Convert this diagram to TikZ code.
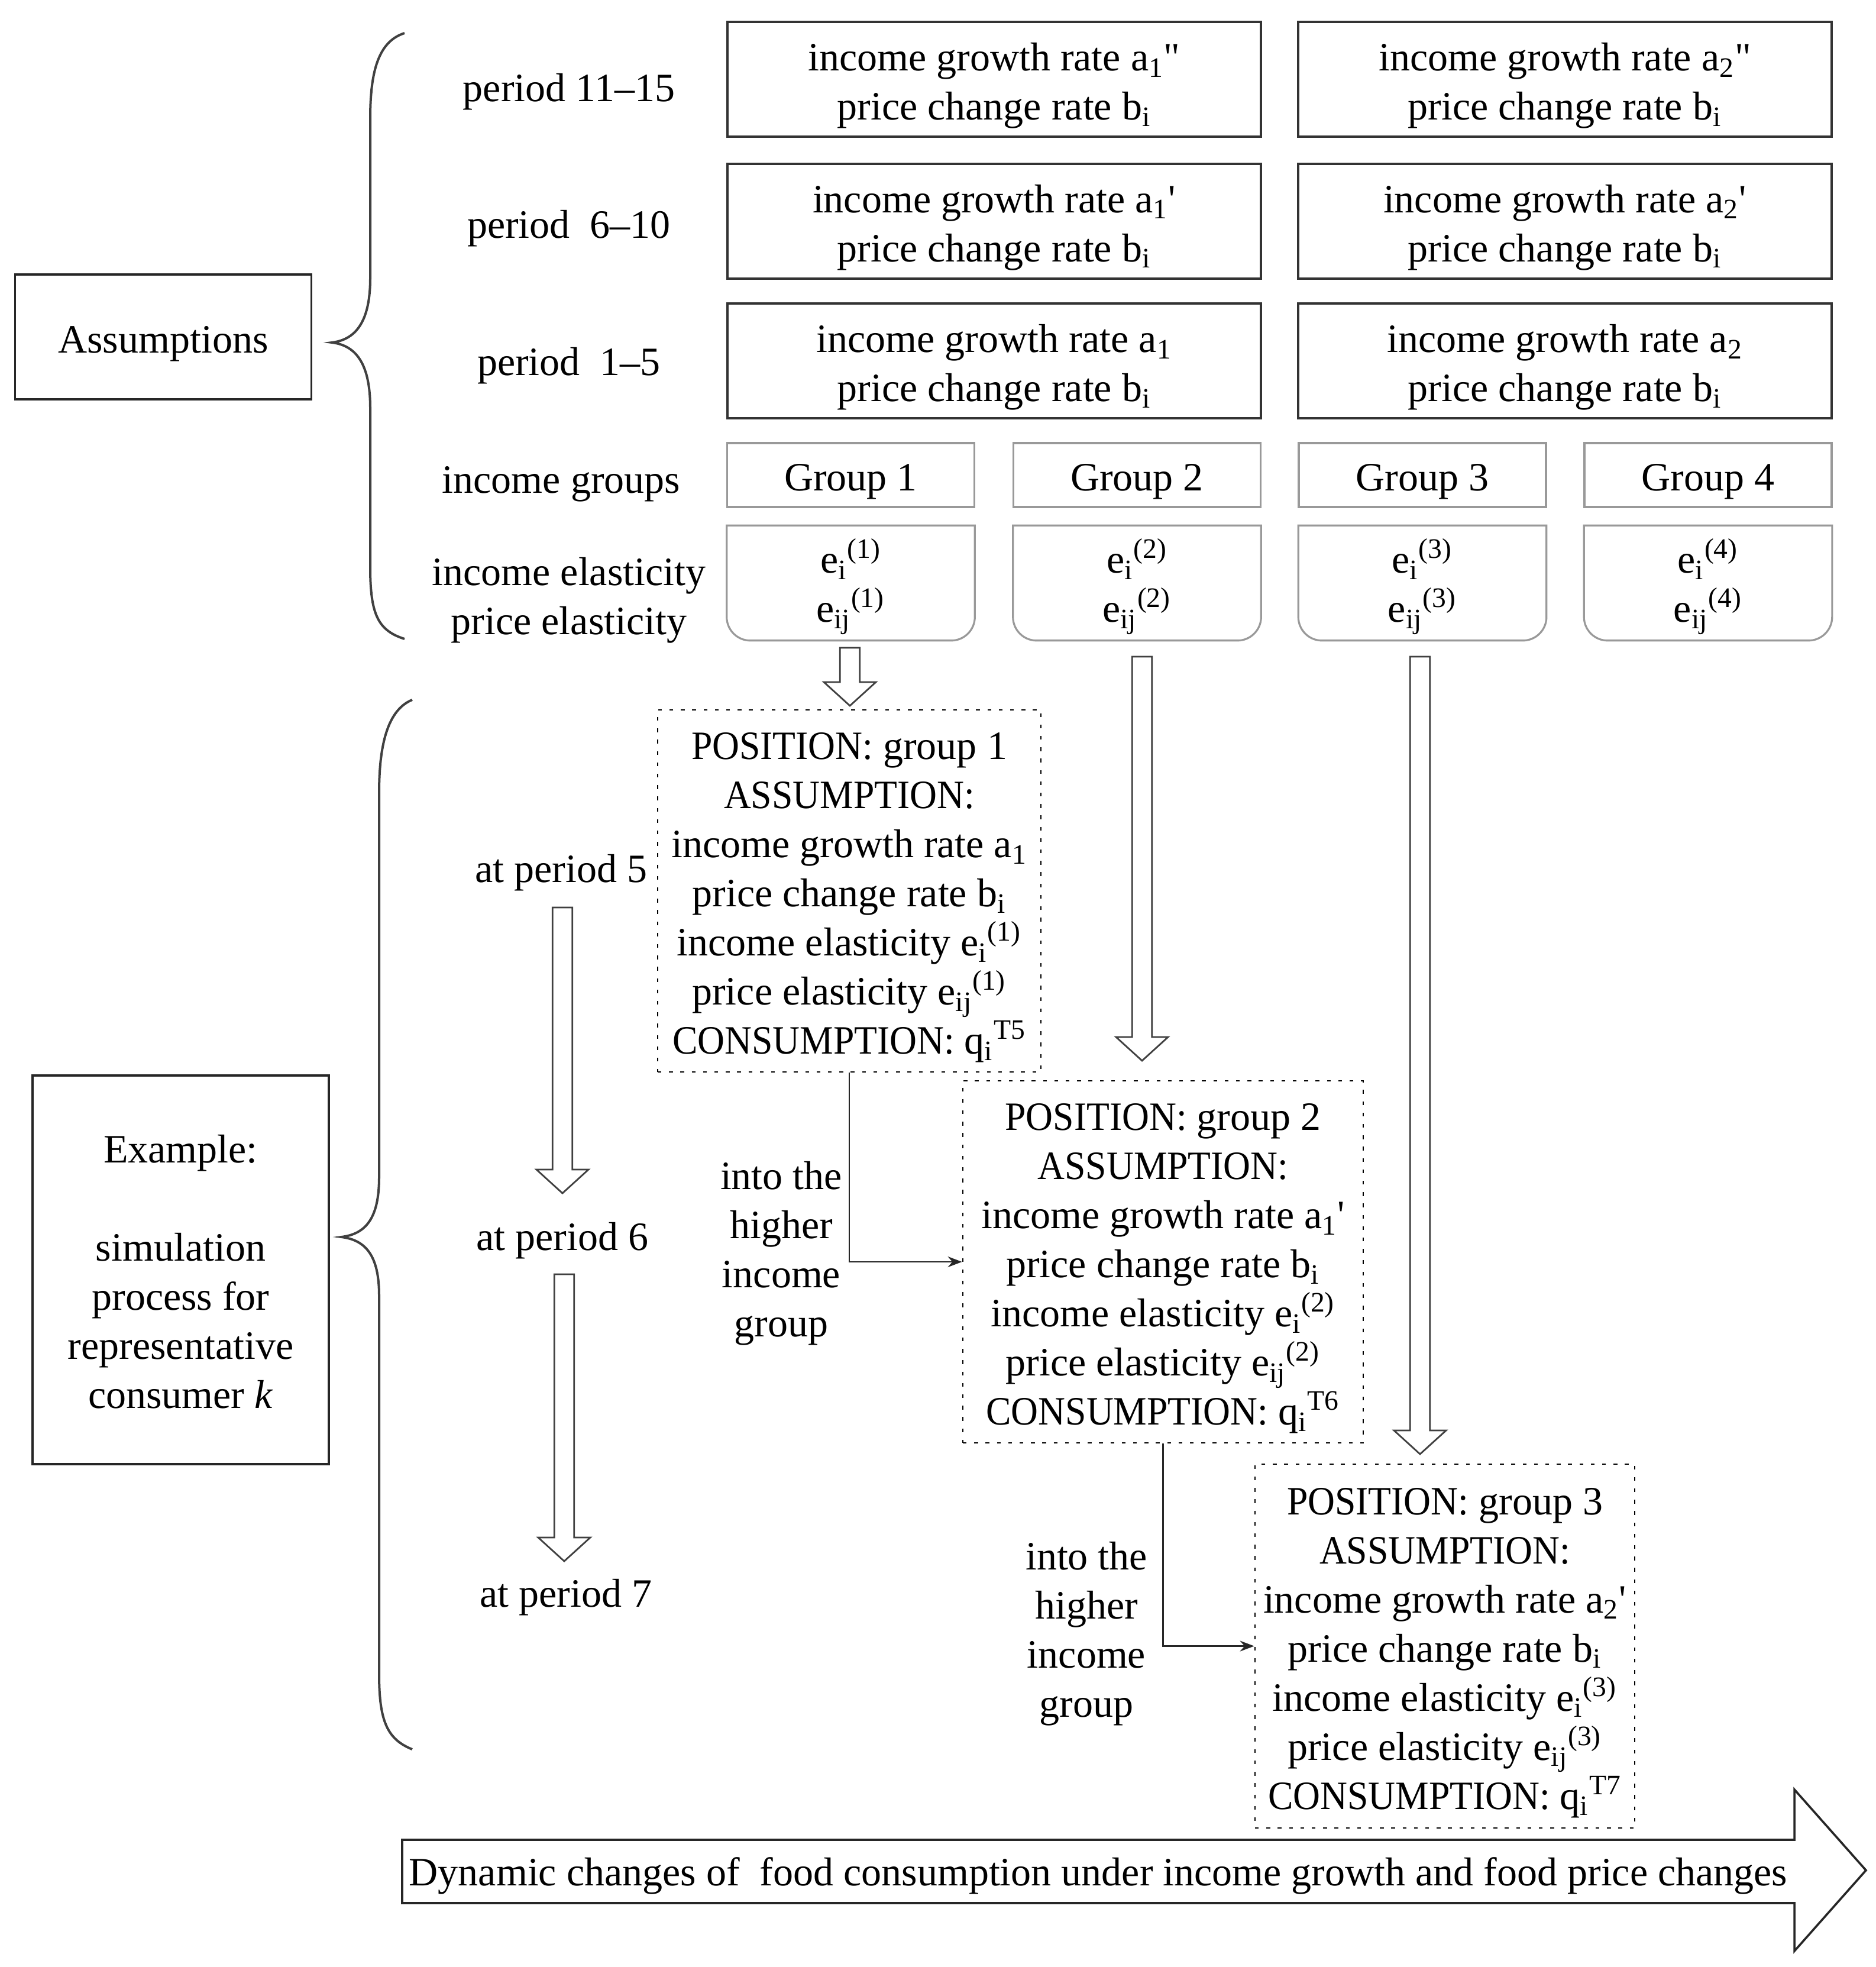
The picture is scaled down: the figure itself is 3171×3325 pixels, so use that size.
\documentclass[tikz,border=0pt]{standalone}
\usepackage{fontspec}
\setmainfont{Liberation Serif}
\newfontfamily\capsfont{Liberation Serif}[FakeStretch=0.935]
\newcommand\caps[1]{{\capsfont #1}}
\newcommand\fl[1][17pt]{\rule{0pt}{#1}}
\usetikzlibrary{arrows.meta,calc}
\newcommand\hollowarrow[2]{\draw[hollow] let \p1=#1, \p2=#2 in (\x1-4.2pt,\y1) -- (\x1-4.2pt,\y2+10pt) -- (\x1-11pt,\y2+10pt) -- (\x1,\y2) -- (\x1+11pt,\y2+10pt) -- (\x1+4.2pt,\y2+10pt) -- (\x1+4.2pt,\y1) -- cycle;}
\newcommand\elbox[1]{\draw[grpline] (#1.north west) -- (#1.north east) -- ([yshift=10pt]#1.south east) arc[start angle=0,end angle=-90,radius=10pt] -- ([xshift=10pt]#1.south west) arc[start angle=270,end angle=180,radius=10pt] -- cycle;}
\begin{document}
\begin{tikzpicture}[x=0.25pt,y=-0.25pt,
  every node/.style={font=\fontsize{17}{20.75}\selectfont, inner sep=0pt, align=center},
  lowtext/.style={execute at begin node={\rule{0pt}{#1}}},
  lowtext/.default=17pt,
  mainbox/.style={draw=black!80, line width=1pt, minimum width=225.5pt, minimum height=48.5pt},
  grpbox/.style={draw=black!40, line width=0.8pt, minimum width=104.5pt, minimum height=27pt, lowtext},
  elnode/.style={minimum width=104.5pt, minimum height=48.25pt},
  grpline/.style={draw=black!40, line width=0.8pt},
  dotbox/.style={draw=black, line width=0.7pt, dash pattern=on 1.6pt off 3.2pt, minimum height=153pt},
  sidebox/.style={draw=black!85, line width=0.9pt, minimum width=125.25pt},
  hollow/.style={draw=black!75, fill=white, line width=0.7pt},
  brace/.style={draw=black!75, line width=1pt},
  conn/.style={draw=black!85, line width=0.7pt, -{Stealth[length=6pt,width=4.5pt]}}]
\useasboundingbox (0,0) rectangle (3171,3325);
\fill[white] (0,0) rectangle (3171,3325);

% braces
\draw[brace] (684,56) .. controls (640,70) and (626,120) .. (626,200) -- (626,470) .. controls (626,540) and (604,574) .. (561,579) .. controls (604,584) and (626,618) .. (626,690) -- (626,960) .. controls (626,1040) and (640,1066) .. (684,1080);
\draw[brace] (697,1183) .. controls (655,1200) and (641,1260) .. (641,1340) -- (641,1990) .. controls (641,2060) and (618,2086) .. (577,2091) .. controls (618,2096) and (641,2122) .. (641,2190) -- (641,2830) .. controls (641,2910) and (655,2940) .. (697,2957);

% left boxes
\node[sidebox, minimum height=52.75pt, lowtext] (assum) at (276,569.5) {Assumptions};
\node[sidebox, minimum height=164.25pt] (ex) at (305.5,2146.5) {\fl[13.5pt]Example:\\\mbox{}\\simulation\\process for\\representative\\consumer \textit{k}};

% row labels
\node (p3) at (962,155) {period 11–15};
\node (p2) at (962,386) {period\ \ 6–10};
\node (p1) at (962,618) {period\ \ 1–5};
\node (ig) at (949,818) {income groups};
\node (iel) at (962,1015) {income elasticity\\price elasticity};

% assumption boxes
\node[mainbox] (t3L) at (1681,134.5) {\fl income growth rate a\textsubscript{1}\textquotedbl\\price change rate b\textsubscript{i}};
\node[mainbox] (t3R) at (2646,134.5) {\fl income growth rate a\textsubscript{2}\textquotedbl\\price change rate b\textsubscript{i}};
\node[mainbox] (t2L) at (1681,374) {\fl income growth rate a\textsubscript{1}\textquotesingle\\price change rate b\textsubscript{i}};
\node[mainbox] (t2R) at (2646,374) {\fl income growth rate a\textsubscript{2}\textquotesingle\\price change rate b\textsubscript{i}};
\node[mainbox] (t1L) at (1681,610.5) {\fl income growth rate a\textsubscript{1}\\price change rate b\textsubscript{i}};
\node[mainbox] (t1R) at (2646,610.5) {\fl income growth rate a\textsubscript{2}\\price change rate b\textsubscript{i}};

% groups
\node[grpbox] (g1) at (1438.5,803) {Group 1};
\node[grpbox] (g2) at (1922.5,803) {Group 2};
\node[grpbox] (g3) at (2405,803) {Group 3};
\node[grpbox] (g4) at (2888,803) {Group 4};
\node[elnode] (e1) at (1438.5,985.5) {\fl[17.5pt]e\textsubscript{i}\textsuperscript{(1)}\\e\textsubscript{ij}\textsuperscript{(1)}};
\node[elnode] (e2) at (1922.5,985.5) {\fl[17.5pt]e\textsubscript{i}\textsuperscript{(2)}\\e\textsubscript{ij}\textsuperscript{(2)}};
\node[elnode] (e3) at (2405,985.5) {\fl[17.5pt]e\textsubscript{i}\textsuperscript{(3)}\\e\textsubscript{ij}\textsuperscript{(3)}};
\node[elnode] (e4) at (2888,985.5) {\fl[17.5pt]e\textsubscript{i}\textsuperscript{(4)}\\e\textsubscript{ij}\textsuperscript{(4)}};
\elbox{e1}\elbox{e2}\elbox{e3}\elbox{e4}

% period labels
\node (at5) at (949,1475) {at period 5};
\node (at6) at (951,2097) {at period 6};
\node (at7) at (957,2700) {at period 7};

% dotted boxes
\node[dotbox, minimum width=162pt] (b1) at (1436,1506) {\fl\caps{POSITION:} group 1\\\caps{ASSUMPTION:}\\income growth rate a\textsubscript{1}\\price change rate b\textsubscript{i}\\income elasticity e\textsubscript{i}\textsuperscript{(1)}\\price elasticity e\textsubscript{ij}\textsuperscript{(1)}\\\caps{CONSUMPTION:} q\textsubscript{i}\textsuperscript{T5}};
\node[dotbox, minimum width=169.25pt] (b2) at (1966.5,2133) {\fl\caps{POSITION:} group 2\\\caps{ASSUMPTION:}\\income growth rate a\textsubscript{1}\textquotesingle\\price change rate b\textsubscript{i}\\income elasticity e\textsubscript{i}\textsuperscript{(2)}\\price elasticity e\textsubscript{ij}\textsuperscript{(2)}\\\caps{CONSUMPTION:} q\textsubscript{i}\textsuperscript{T6}};
\node[dotbox, minimum width=160.5pt, minimum height=153.75pt] (b3) at (2443,2782.5) {\fl\caps{POSITION:} group 3\\\caps{ASSUMPTION:}\\income growth rate a\textsubscript{2}\textquotesingle\\price change rate b\textsubscript{i}\\income elasticity e\textsubscript{i}\textsuperscript{(3)}\\price elasticity e\textsubscript{ij}\textsuperscript{(3)}\\\caps{CONSUMPTION:} q\textsubscript{i}\textsuperscript{T7}};

% into labels
\node (into1) at (1321,2119) {into the\\higher\\income\\group};
\node (into2) at (1837,2762) {into the\\higher\\income\\group};

% connectors
\draw[conn] (b1.south) |- (b2.west);
\draw[conn] (b2.south) |- (b3.west);

% hollow arrows
\coordinate (a1s) at (1437,1095); \coordinate (a1e) at (1437,1193);
\coordinate (a2s) at (1931,1110); \coordinate (a2e) at (1931,1793);
\coordinate (a3s) at (2401,1110); \coordinate (a3e) at (2401,2458);
\coordinate (p1s) at (951,1534); \coordinate (p1e) at (951,2017);
\coordinate (p2s) at (954,2154); \coordinate (p2e) at (954,2639);
\hollowarrow{(a1s)}{(a1e)}
\hollowarrow{(a2s)}{(a2e)}
\hollowarrow{(a3s)}{(a3e)}
\hollowarrow{(p1s)}{(p1e)}
\hollowarrow{(p2s)}{(p2e)}

% big arrow
\draw[hollow, draw=black!85, line width=0.9pt] (680,3110) -- (3034,3110) -- (3034,3025) -- (3155,3161.5) -- (3034,3298) -- (3034,3217) -- (680,3217) -- cycle;
\node (dyn) at (1857,3171) {Dynamic changes of\ \ food consumption under income growth and food price changes};
\end{tikzpicture}
\end{document}
